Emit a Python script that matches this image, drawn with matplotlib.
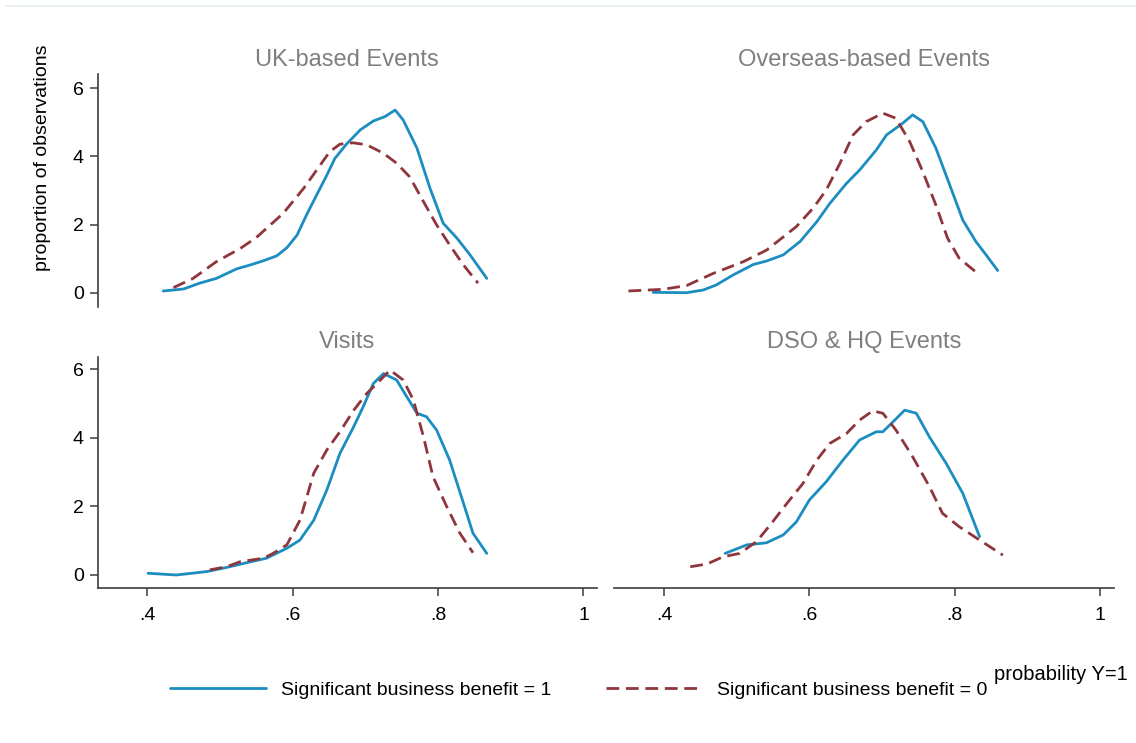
import matplotlib.pyplot as plt
import numpy as np

plt.rcParams['font.family'] = ['Liberation Sans', 'DejaVu Sans']

# kernel density of predicted probability, by type of activity
uk_x1 = [0.422, 0.450, 0.472, 0.495, 0.523, 0.541, 0.560, 0.578, 0.592, 0.606, 0.619, 0.633, 0.647, 0.658, 0.674, 0.693, 0.711, 0.727, 0.741, 0.752, 0.771, 0.789, 0.807, 0.826, 0.844, 0.867]
uk_y1 = [0.05, 0.11, 0.28, 0.42, 0.70, 0.81, 0.94, 1.08, 1.32, 1.69, 2.28, 2.87, 3.45, 3.94, 4.36, 4.78, 5.04, 5.17, 5.36, 5.07, 4.24, 3.06, 2.04, 1.60, 1.11, 0.42]
uk_x0 = [0.436, 0.463, 0.495, 0.528, 0.550, 0.587, 0.615, 0.638, 0.651, 0.665, 0.683, 0.702, 0.725, 0.743, 0.761, 0.780, 0.798, 0.816, 0.835, 0.855]
uk_y0 = [0.15, 0.42, 0.91, 1.30, 1.62, 2.33, 3.06, 3.75, 4.14, 4.36, 4.40, 4.34, 4.09, 3.80, 3.40, 2.67, 1.99, 1.40, 0.81, 0.28]

os_x1 = [0.385, 0.431, 0.454, 0.472, 0.495, 0.523, 0.541, 0.564, 0.587, 0.610, 0.628, 0.651, 0.669, 0.692, 0.706, 0.719, 0.728, 0.742, 0.756, 0.774, 0.793, 0.811, 0.829, 0.843, 0.859]
os_y1 = [0.01, 0.00, 0.08, 0.23, 0.52, 0.83, 0.93, 1.11, 1.50, 2.08, 2.62, 3.21, 3.60, 4.19, 4.63, 4.83, 4.97, 5.22, 5.02, 4.24, 3.16, 2.13, 1.50, 1.11, 0.65]
os_x0 = [0.351, 0.399, 0.431, 0.468, 0.509, 0.541, 0.582, 0.605, 0.623, 0.642, 0.660, 0.678, 0.701, 0.719, 0.738, 0.756, 0.774, 0.790, 0.806, 0.834]
os_y0 = [0.05, 0.10, 0.21, 0.57, 0.91, 1.25, 1.94, 2.48, 3.01, 3.80, 4.63, 5.02, 5.27, 5.12, 4.43, 3.55, 2.57, 1.60, 1.01, 0.52]

vi_x1 = [0.401, 0.440, 0.482, 0.509, 0.537, 0.564, 0.592, 0.610, 0.629, 0.647, 0.665, 0.684, 0.697, 0.711, 0.725, 0.743, 0.757, 0.771, 0.784, 0.798, 0.816, 0.835, 0.848, 0.867]
vi_y1 = [0.05, 0.00, 0.10, 0.22, 0.36, 0.49, 0.78, 1.02, 1.60, 2.48, 3.55, 4.33, 4.91, 5.59, 5.88, 5.69, 5.20, 4.72, 4.62, 4.23, 3.35, 2.09, 1.22, 0.63]
vi_x0 = [0.486, 0.509, 0.528, 0.560, 0.573, 0.592, 0.610, 0.629, 0.647, 0.665, 0.684, 0.702, 0.716, 0.734, 0.752, 0.766, 0.780, 0.793, 0.812, 0.830, 0.848]
vi_y0 = [0.15, 0.24, 0.39, 0.49, 0.63, 0.88, 1.60, 2.97, 3.65, 4.18, 4.81, 5.30, 5.59, 5.98, 5.69, 5.11, 4.03, 2.87, 1.99, 1.22, 0.65]

hq_x1 = [0.484, 0.514, 0.541, 0.564, 0.582, 0.600, 0.623, 0.646, 0.669, 0.692, 0.701, 0.715, 0.731, 0.747, 0.765, 0.788, 0.811, 0.834]
hq_y1 = [0.63, 0.88, 0.94, 1.17, 1.55, 2.19, 2.72, 3.35, 3.94, 4.18, 4.18, 4.47, 4.81, 4.72, 4.03, 3.26, 2.38, 1.12]
hq_x0 = [0.436, 0.459, 0.481, 0.504, 0.527, 0.546, 0.569, 0.591, 0.610, 0.628, 0.651, 0.669, 0.687, 0.701, 0.719, 0.742, 0.765, 0.783, 0.806, 0.834, 0.866]
hq_y0 = [0.24, 0.32, 0.53, 0.63, 0.97, 1.46, 2.09, 2.67, 3.35, 3.84, 4.13, 4.52, 4.79, 4.72, 4.23, 3.45, 2.58, 1.80, 1.41, 1.02, 0.58]

titles = ['UK-based Events', 'Overseas-based Events', 'Visits', 'DSO & HQ Events']
series = [(uk_x1, uk_y1, uk_x0, uk_y0), (os_x1, os_y1, os_x0, os_y0),
          (vi_x1, vi_y1, vi_x0, vi_y0), (hq_x1, hq_y1, hq_x0, hq_y0)]
xticks = [0.4, 0.6, 0.8, 1.0]
xticklabels = ['.4', '.6', '.8', '1']
yticks = [0, 2, 4, 6]

blue = '#1b8dc0'
red = '#8f353c'
axcol = '#3c3c3c'

fig = plt.figure(figsize=(11.36, 7.43), dpi=100)

# thin frame line across the top
fig.add_artist(plt.Line2D([6 / 1136, 1], [1 - 6.3 / 743] * 2, color='#e4ecee', lw=1.2))

pos = [(0.0859, 0.5872, 0.4396, 0.3132), (0.5408, 0.5872, 0.4396, 0.3132),
       (0.0859, 0.2086, 0.4396, 0.3113), (0.5408, 0.2086, 0.4396, 0.3113)]
ylims = [(-0.411, 6.419), (-0.411, 6.419), (-0.38, 6.37), (-0.38, 6.37)]

for i in range(4):
    ax = fig.add_axes(pos[i])
    x1, y1, x0, y0 = series[i]
    l1, = ax.plot(x1, y1, color=blue, lw=2.0, solid_joinstyle='round', solid_capstyle='round')
    l0, = ax.plot(x0, y0, color=red, lw=2.0, dashes=(4.6, 2.4), dash_joinstyle='round')
    ax.set_xlim(0.3316, 1.0186)
    ax.set_ylim(*ylims[i])
    for s in ax.spines.values():
        s.set_visible(False)
        s.set_color(axcol)
        s.set_linewidth(1.2)
    left = i in (0, 2)
    bottom = i in (2, 3)
    ax.spines['left'].set_visible(left)
    ax.spines['bottom'].set_visible(bottom)
    ax.set_xticks(xticks)
    ax.set_xticklabels(xticklabels)
    ax.set_yticks(yticks)
    ax.tick_params(axis='both', direction='out', length=6, width=1.1, color=axcol,
                   labelsize=14, pad=4)
    ax.tick_params(axis='x', bottom=bottom, labelbottom=bottom, pad=8)
    ax.tick_params(axis='y', left=left, labelleft=left)
    ax.set_title(titles[i], color='#7f7f7f', fontsize=17, pad=6)
    ax.patch.set_alpha(0)

fig.text(43 / 1136, 1 - 158 / 743, 'proportion of observations', rotation=90,
         ha='center', va='center', fontsize=14)
fig.text(1128 / 1136, 1 - 675 / 743, 'probability Y=1', ha='right', va='center', fontsize=14.5)

fig.legend([l1, l0], ['Significant business benefit = 1', 'Significant business benefit = 0'],
           loc='center', bbox_to_anchor=(0.5095, 1 - 690 / 743), ncol=2, frameon=False,
           fontsize=14, handlelength=4.9, handletextpad=0.8, columnspacing=2.8)

fig.savefig('out.png', dpi=100, facecolor='white')
